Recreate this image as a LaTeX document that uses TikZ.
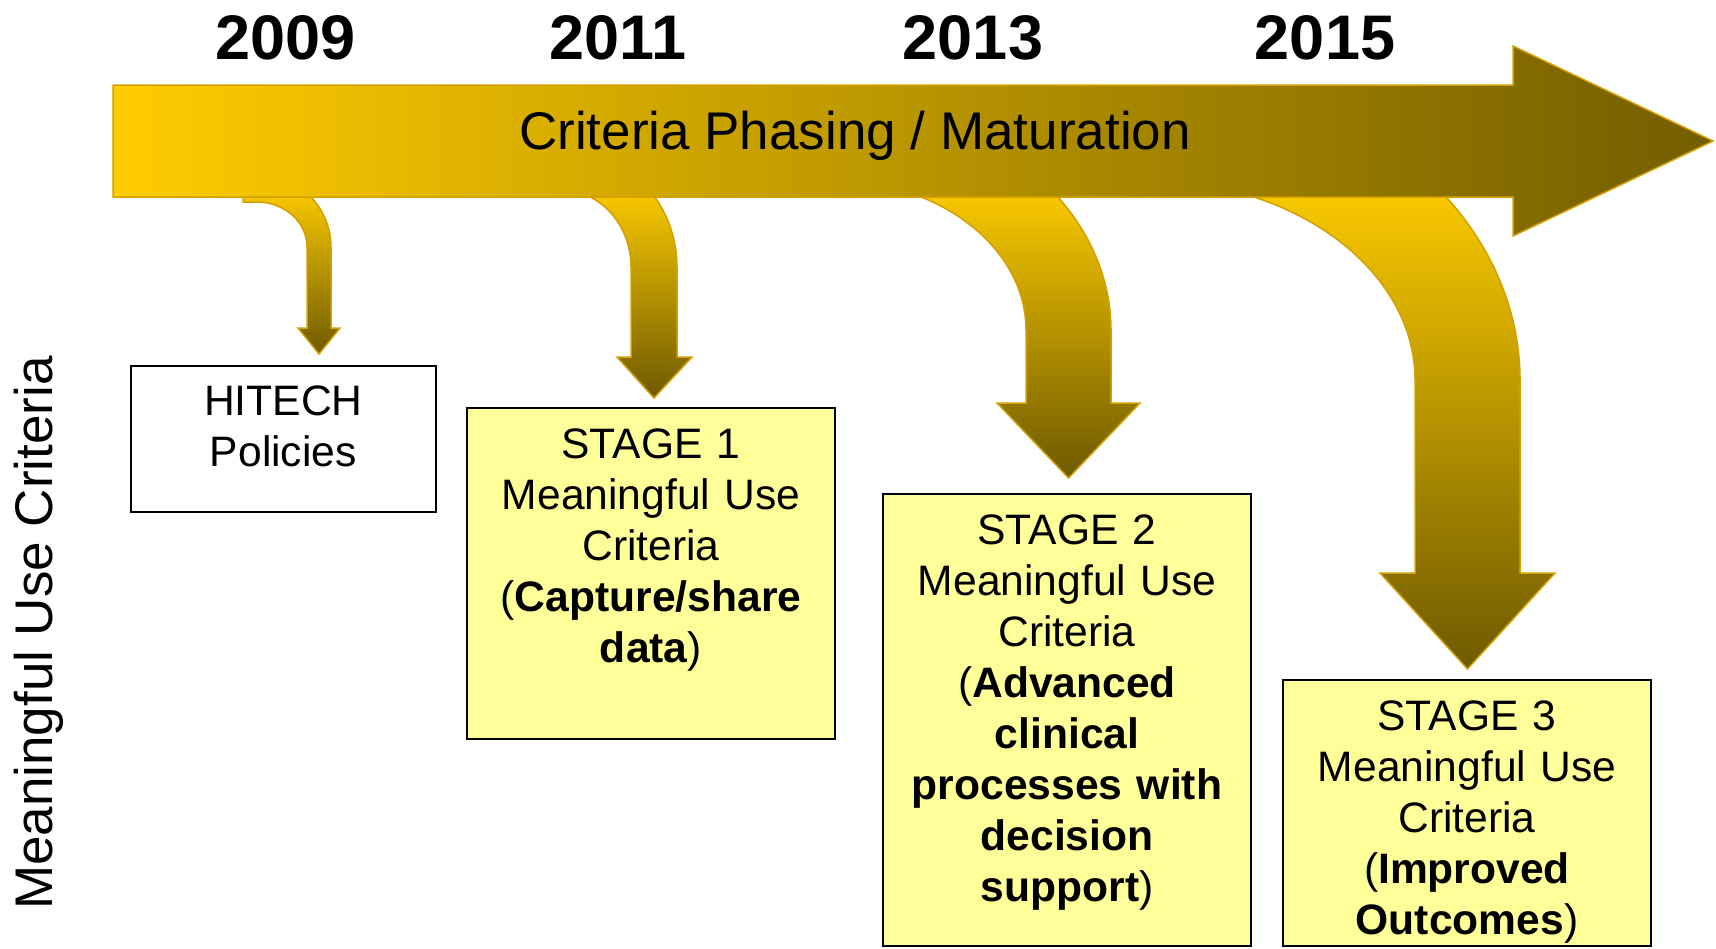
\documentclass[tikz,border=0pt]{standalone}
\usepackage{fontspec}
\setmainfont{Liberation Sans}
\definecolor{barleft}{HTML}{FFCC00}
\definecolor{barright}{HTML}{735E00}
\definecolor{edgegold}{HTML}{D4A000}
\definecolor{boxfill}{HTML}{FFFF99}
\definecolor{arrtop}{HTML}{F8C800}
\definecolor{arrbot}{HTML}{6E5A00}
\tikzset{
  curvearrow/.style={draw=edgegold, line width=0.75pt, top color=arrtop, bottom color=arrbot},
  mainarrow/.style={draw=edgegold, line width=0.75pt, left color=barleft, right color=barright},
  stagebox/.style={draw=black, line width=1pt, fill=boxfill, anchor=north west, inner sep=0pt, outer sep=0pt, minimum width=184pt},
  plainbox/.style={draw=black, line width=1pt, fill=white, anchor=north west, inner sep=0pt, outer sep=0pt},
  stagetext/.style={anchor=north, inner sep=0pt, text width=180pt, align=center, font=\fontsize{21.3}{25.5}\selectfont},
  yearlabel/.style={anchor=base, inner sep=0pt, font=\fontsize{31.5}{36}\selectfont\bfseries},
}
\begin{document}
\begin{tikzpicture}[x=0.5pt,y=-0.5pt]
\useasboundingbox (0,0) rectangle (1716,948);

% curved arrows (drawn first, tops hidden under the bar)
\path[curvearrow] (243,192) -- (243,202) -- (257,202) .. controls (284.6,202) and (307,222.1) .. (307,247) -- (307,328) -- (298,328) -- (319,354) -- (340,328) -- (331,328) -- (331,247) .. controls (331,225.9) and (321.8,205.9) .. (305.7,192) -- cycle;
\path[curvearrow] (576.9,192) .. controls (608.6,200.1) and (631,231.2) .. (631,267) -- (631,357) -- (617,357) -- (654,398) -- (692,357) -- (677,357) -- (677,267) .. controls (677,239.7) and (667.9,213.2) .. (651.1,192) -- cycle;
\path[curvearrow] (907.4,192) .. controls (979.3,215.6) and (1026,269.9) .. (1026,330) -- (1026,403) -- (997,403) -- (1068.5,478) -- (1140,403) -- (1111,403) -- (1111,330) .. controls (1111,280.1) and (1090.7,231.6) .. (1053.3,192) -- cycle;
\path[curvearrow] (1237.1,192) .. controls (1343.9,220.7) and (1415,295.9) .. (1415,380) -- (1415,573) -- (1380,573) -- (1467.5,669) -- (1555,573) -- (1520,573) -- (1520,380) .. controls (1520,311.9) and (1492.4,245.8) .. (1441.5,192) -- cycle;

% main timeline arrow
\path[mainarrow] (113,85) -- (1513,85) -- (1513,46) -- (1713,141) -- (1513,236) -- (1513,197) -- (113,197) -- cycle;
\node[anchor=base, inner sep=0pt, font=\fontsize{26.5}{30}\selectfont] (bartext) at (855,149) {Criteria Phasing / Maturation};

% years
\node[yearlabel] (y2009) at (285.6,59) {2009};
\node[yearlabel] (y2011) at (618,59) {2011};
\node[yearlabel] (y2013) at (973,59) {2013};
\node[yearlabel] (y2015) at (1325,59) {2015};

% boxes
\node[plainbox, minimum width=152.3pt, minimum height=73.25pt] (hitech) at (131,365.5) {};
\node[stagetext] (hitecht) at ([yshift=-10pt]hitech.north) {HITECH\\Policies};

\node[stagebox, minimum height=165.5pt] (s1) at (467,408) {};
\node[stagetext] (s1t) at ([yshift=-10pt]s1.north) {STAGE 1\\Meaningful Use\\Criteria\\(\textbf{Capture/share}\\\textbf{data})};

\node[stagebox, minimum height=226pt] (s2) at (883,494) {};
\node[stagetext] (s2t) at ([yshift=-10pt]s2.north) {STAGE 2\\Meaningful Use\\Criteria\\(\textbf{Advanced}\\\textbf{clinical}\\\textbf{processes with}\\\textbf{decision}\\\textbf{support})};

\node[stagebox, minimum height=133pt] (s3) at (1283,680) {};
\node[stagetext] (s3t) at ([yshift=-10pt]s3.north) {STAGE 3\\Meaningful Use\\Criteria\\(\textbf{Improved}\\\textbf{Outcomes})};

% vertical label
\node[rotate=90, anchor=base, inner sep=0pt, font=\fontsize{26.5}{30}\selectfont] (vlabel) at (52,633) {Meaningful Use Criteria};
\end{tikzpicture}
\end{document}
